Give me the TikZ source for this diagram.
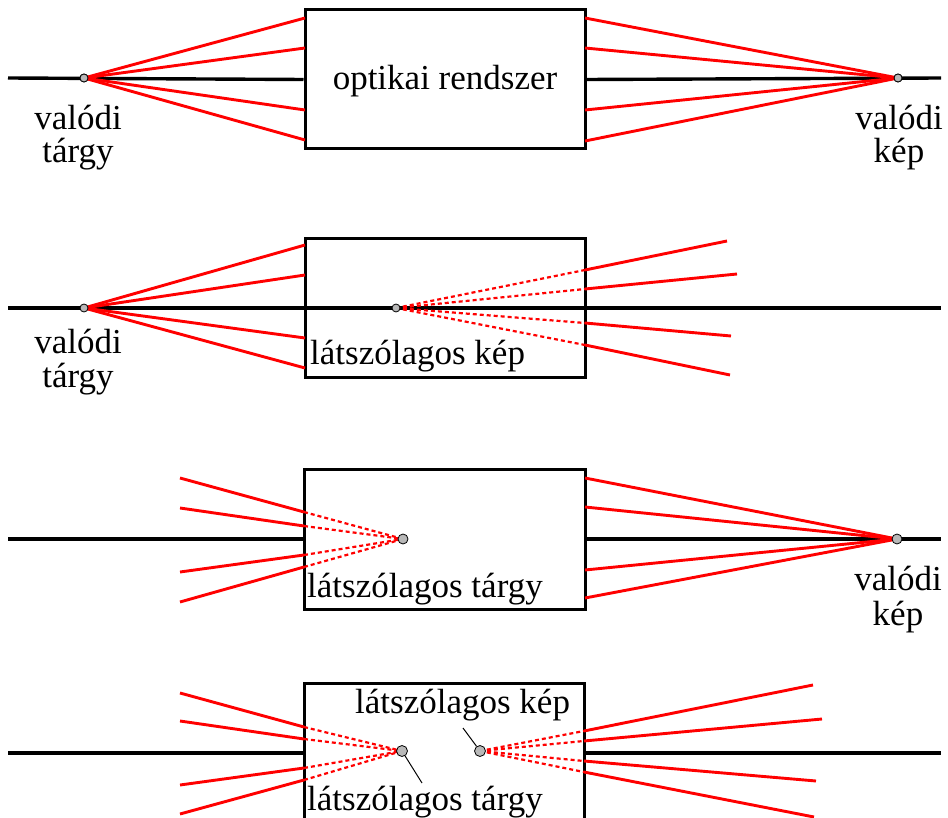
\documentclass[tikz,border=0pt]{standalone}
\usepackage{fontspec}
\setmainfont{Liberation Serif}
\begin{document}
\begin{tikzpicture}[x=1pt,y=-1pt,
  optbox/.style={draw=black,line width=3pt,fill=none,inner sep=0pt},
  axisline/.style={draw=black,line width=3.4pt},
  ray/.style={draw=red,line width=2.9pt},
  vray/.style={draw=red,line width=2.2pt,dash pattern=on 4pt off 3pt},
  pt/.style={circle,draw=black,line width=0.8pt,fill=black!28,inner sep=0pt,minimum size=#1},
  lbl/.style={font=\fontsize{35}{40}\selectfont,inner sep=0pt},
  leader/.style={draw=black,line width=1pt}]
\useasboundingbox (0,0) rectangle (948,818);
\clip (0,0) rectangle (948,818);

% ---------- panel 1 ----------
\node[optbox,minimum width=280pt,minimum height=139pt] (B1) at (445,79.5) {};
\coordinate (A1s) at (8,78); \coordinate (A1e) at (941,78);
\draw[axisline] (A1s) -- (B1.west);
\draw[axisline] (B1.east) -- (A1e);
\node[pt=8pt] (O1) at (84,78) {};
\node[pt=8pt] (I1) at (898,78) {};
\foreach \y [count=\i] in {18,48,110,140} \coordinate (L1\i) at (305,\y);
\foreach \y [count=\i] in {18,48,110,141} \coordinate (R1\i) at (585,\y);
\foreach \i in {1,...,4} {
  \draw[ray] (O1.center) -- (L1\i);
  \draw[ray] (R1\i) -- (I1.center);
}
\node[pt=8pt] at (O1) {};
\node[pt=8pt] at (I1) {};
\node[lbl,anchor=base] (T1) at (445,90) {optikai rendszer};
\node[lbl,anchor=base] (T1a) at (78,130) {valódi};
\node[lbl,anchor=base] (T1b) at (78,163) {tárgy};
\node[lbl,anchor=base] (T1c) at (899,130) {valódi};
\node[lbl,anchor=base] (T1d) at (899,163) {kép};

% ---------- panel 2 ----------
\node[optbox,minimum width=280pt,minimum height=138pt] (B2) at (445,308) {};
\coordinate (A2s) at (8,308); \coordinate (A2e) at (941,308);
\draw[axisline] (A2s) -- (A2e);
\coordinate (O2) at (84,308);
\coordinate (V2) at (396,308);
\foreach \y [count=\i] in {245,275,338,368} \coordinate (L2\i) at (305,\y);
\foreach \y [count=\i] in {270,289,323,345} \coordinate (R2\i) at (585,\y);
\coordinate (E21) at (727,241); \coordinate (E22) at (737,274);
\coordinate (E23) at (731,336); \coordinate (E24) at (730,375);
\foreach \i in {1,...,4} {
  \draw[ray] (O2) -- (L2\i);
  \draw[vray] (V2) -- (R2\i);
  \draw[ray] (R2\i) -- (E2\i);
}
\node[pt=8pt] (O2p) at (O2) {};
\node[pt=8pt] (V2p) at (V2) {};
\node[lbl,anchor=base] (T2a) at (78,354) {valódi};
\node[lbl,anchor=base] (T2b) at (78,387) {tárgy};
\node[lbl,anchor=base west] (T2c) at (310,365) {látszólagos kép};

% ---------- panel 3 ----------
\node[optbox,minimum width=281pt,minimum height=140pt] (B3) at (444.5,539) {};
\coordinate (A3s) at (8,539); \coordinate (A3e) at (941,539);
\draw[axisline] (A3s) -- (B3.west);
\draw[axisline] (B3.east) -- (A3e);
\coordinate (V3) at (403,539);
\coordinate (I3) at (897,539);
\foreach \y [count=\i] in {478,508,572,602} \coordinate (S3\i) at (180,\y);
\foreach \y [count=\i] in {512,526,555,567} \coordinate (L3\i) at (304,\y);
\foreach \y [count=\i] in {478,507,570,598} \coordinate (R3\i) at (585,\y);
\foreach \i in {1,...,4} {
  \draw[ray] (S3\i) -- (L3\i);
  \draw[vray] (L3\i) -- (V3);
  \draw[ray] (R3\i) -- (I3);
}
\node[pt=10pt] (V3p) at (V3) {};
\node[pt=10pt] (I3p) at (I3) {};
\node[lbl,anchor=base west] (T3a) at (307,597) {látszólagos tárgy};
\node[lbl,anchor=base] (T3b) at (898,590) {valódi};
\node[lbl,anchor=base] (T3c) at (898,625) {kép};

% ---------- panel 4 ----------
\node[optbox,minimum width=280pt,minimum height=160pt] (B4) at (444,763) {};
\coordinate (A4s) at (8,753); \coordinate (A4e) at (941,753);
\coordinate (B4w) at (304,753); \coordinate (B4e) at (584,753);
\draw[axisline] (A4s) -- (B4w);
\draw[axisline] (B4e) -- (A4e);
\coordinate (V4) at (402,751);
\coordinate (W4) at (480,751);
\foreach \y [count=\i] in {693,721,785,814} \coordinate (S4\i) at (180,\y);
\foreach \y [count=\i] in {727,739,768,780} \coordinate (L4\i) at (304,\y);
\foreach \y [count=\i] in {731,741,761,772} \coordinate (R4\i) at (584,\y);
\coordinate (E41) at (813,685); \coordinate (E42) at (822,719);
\coordinate (E43) at (816,781); \coordinate (E44) at (814,817);
\foreach \i in {1,...,4} {
  \draw[ray] (S4\i) -- (L4\i);
  \draw[vray] (L4\i) -- (V4);
  \draw[vray] (W4) -- (R4\i);
  \draw[ray] (R4\i) -- (E4\i);
}
\node[pt=11pt] (V4p) at (V4) {};
\node[pt=11pt] (W4p) at (W4) {};
\node[lbl,anchor=base west] (T4a) at (355,713) {látszólagos kép};
\node[lbl,anchor=base west] (T4b) at (307,810) {látszólagos tárgy};
\coordinate (K4a) at (463,728);
\coordinate (K4b) at (422,783);
\draw[leader] (K4a) -- (W4p);
\draw[leader] (V4p) -- (K4b);
\end{tikzpicture}
\end{document}
